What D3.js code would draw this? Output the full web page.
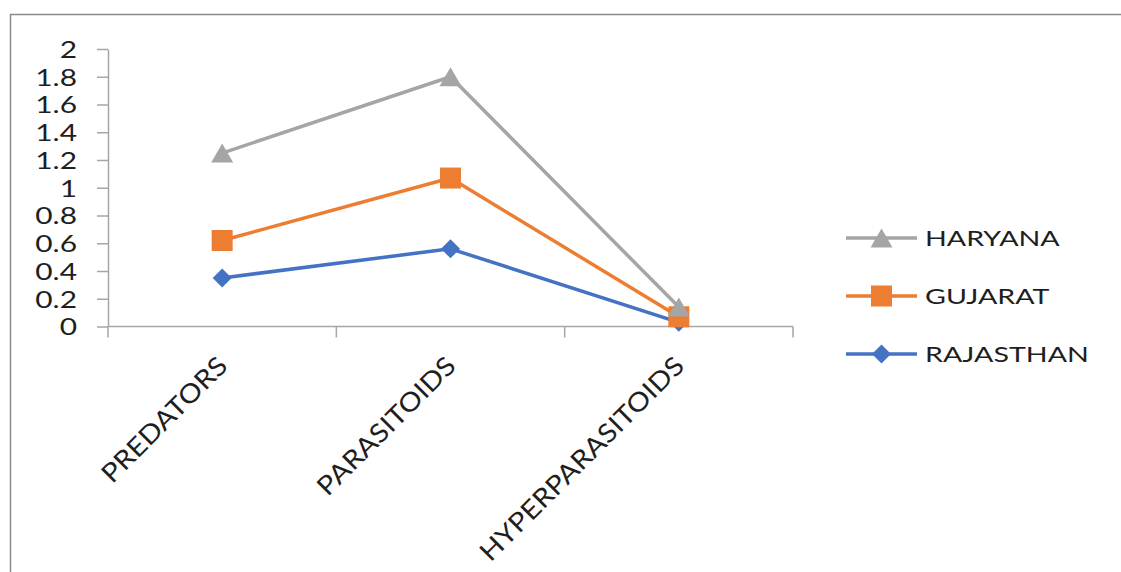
<!DOCTYPE html>
<html>
<head>
<meta charset="utf-8">
<script src="https://cdn.jsdelivr.net/npm/d3@7"></script>
<style>
  html, body { margin: 0; padding: 0; background: #fff; }
  svg { display: block; }
  text { font-family: Lato, "Liberation Sans", sans-serif; fill: #1e1e1e; }
</style>
</head>
<body>
<svg id="chart" width="1121" height="572"></svg>
<script>
const categories = ["PREDATORS", "PARASITOIDS", "HYPERPARASITOIDS"];
const seriesNames = ["HARYANA", "GUJARAT", "RAJASTHAN"];
const haryana = [1.25, 1.80, 0.14];
const gujarat = [0.62, 1.07, 0.07];
const rajasthan = [0.35, 0.56, 0.03];
const yTickValues = [0, 0.2, 0.4, 0.6, 0.8, 1, 1.2, 1.4, 1.6, 1.8, 2];
const yTickLabels = ["0", "0.2", "0.4", "0.6", "0.8", "1", "1.2", "1.4", "1.6", "1.8", "2"];

const series = [
  { name: seriesNames[0], values: haryana, color: "#A5A5A5", marker: "triangle" },
  { name: seriesNames[1], values: gujarat, color: "#ED7D31", marker: "square" },
  { name: seriesNames[2], values: rajasthan, color: "#4472C4", marker: "diamond" }
];

const svg = d3.select("#chart");
const axisColor = "#a6a6a6";

function stretch(sel, k) {
  sel.each(function () {
    const w = this.getComputedTextLength();
    this.setAttribute("textLength", w * k);
    this.setAttribute("lengthAdjust", "spacingAndGlyphs");
  });
}

function markerPath(type) {
  if (type === "triangle") return "M0,-9.5L11,9.5L-11,9.5Z";
  if (type === "square") return "M-10.5,-10.5H10.5V10.5H-10.5Z";
  return "M0,-9.5L9.5,0L0,9.5L-9.5,0Z";
}

// outer border
svg.append("rect")
  .attr("x", 10.5).attr("y", 14.5)
  .attr("width", 1130).attr("height", 580)
  .attr("fill", "none").attr("stroke", "#8a8a8a").attr("stroke-width", 1.5);

const x = d3.scaleBand().domain(categories).range([108, 793]).padding(0);
const y = d3.scaleLinear().domain([0, 2]).range([326.5, 49]);
const cx = c => x(c) + x.bandwidth() / 2;

// y axis
const yAxis = svg.append("g")
  .attr("transform", "translate(108,0)")
  .call(d3.axisLeft(y)
    .tickValues(yTickValues)
    .tickFormat((d, i) => yTickLabels[i])
    .tickSize(11).tickSizeOuter(0).tickPadding(20));
yAxis.select(".domain").attr("stroke", axisColor).attr("stroke-width", 1.5);
yAxis.selectAll(".tick line").attr("stroke", axisColor).attr("stroke-width", 1.5);
yAxis.selectAll(".tick text")
  .attr("font-size", 23).attr("fill", "#1e1e1e")
  .style("font-family", "Lato, 'Liberation Sans', sans-serif")
  .attr("dy", "0.36em");
stretch(yAxis.selectAll(".tick text"), 1.3);

// x axis line and boundary ticks
const xAxis = svg.append("g");
xAxis.append("line")
  .attr("x1", x.range()[0]).attr("x2", x.range()[1])
  .attr("y1", y(0)).attr("y2", y(0))
  .attr("stroke", axisColor).attr("stroke-width", 1.5);
const bounds = categories.map(c => x(c)).concat([x.range()[1]]);
xAxis.selectAll("line.tk").data(bounds).join("line")
  .attr("class", "tk")
  .attr("x1", d => d).attr("x2", d => d)
  .attr("y1", y(0)).attr("y2", y(0) + 11)
  .attr("stroke", axisColor).attr("stroke-width", 1.5);

// category labels
const catLabels = xAxis.selectAll("text.cat").data(categories).join("text")
  .attr("class", "cat")
  .attr("transform", d => `translate(${cx(d) + 7},${y(0) + 41}) rotate(-45)`)
  .attr("text-anchor", "end")
  .attr("font-size", 26)
  .text(d => d);
stretch(catLabels, 1.12);

// lines and markers (drawn bottom to top: Rajasthan, Gujarat, Haryana)
const line = d3.line().x((d, i) => cx(categories[i])).y(d => y(d));
const drawOrder = [series[2], series[1], series[0]];
drawOrder.forEach(s => {
  const g = svg.append("g");
  g.append("path")
    .attr("d", line(s.values))
    .attr("fill", "none")
    .attr("stroke", s.color)
    .attr("stroke-width", 3.5)
    .attr("stroke-linejoin", "round");
  g.selectAll("path.mk").data(s.values).join("path")
    .attr("class", "mk")
    .attr("d", markerPath(s.marker))
    .attr("transform", (d, i) => `translate(${cx(categories[i])},${y(d)})`)
    .attr("fill", s.color);
});

// legend
const legendY = d3.scalePoint().domain(seriesNames).range([238, 354]);
const legend = svg.append("g");
series.forEach(s => {
  const ly = legendY(s.name);
  legend.append("line")
    .attr("x1", 846).attr("x2", 917).attr("y1", ly).attr("y2", ly)
    .attr("stroke", s.color).attr("stroke-width", 3.5);
  legend.append("path")
    .attr("d", markerPath(s.marker))
    .attr("transform", `translate(881.5,${ly})`)
    .attr("fill", s.color);
  const t = legend.append("text")
    .attr("x", 925).attr("y", ly)
    .attr("dy", "0.36em")
    .attr("font-size", 22)
    .text(s.name);
  stretch(t, 1.3);
});
</script>
</body>
</html>
